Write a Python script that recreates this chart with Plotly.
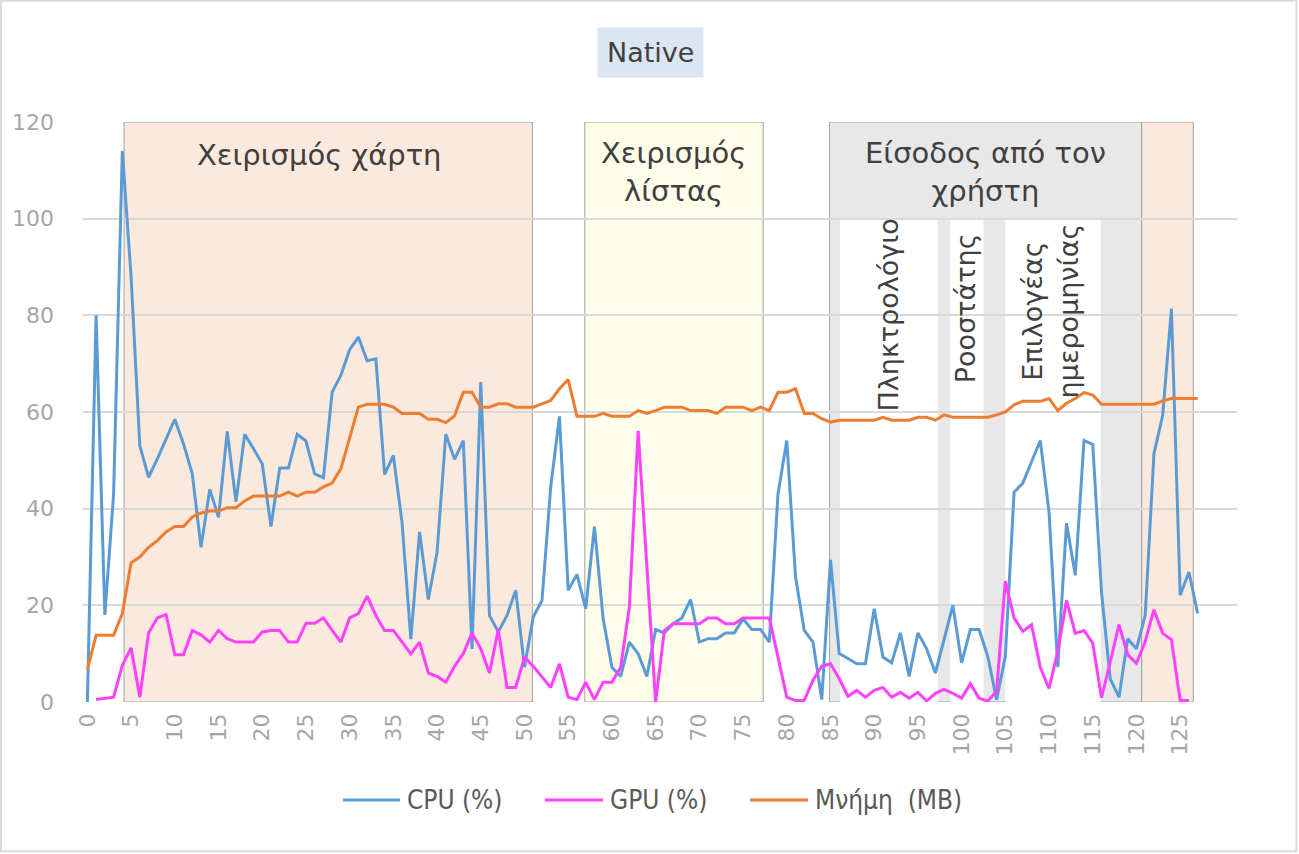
import plotly.graph_objects as go

# sample index (category axis)
samples = list(range(128))

cpu = [0, 80, 18, 43, 114, 88, 53, 46.5, 50.3, 54.5,
       58.5, 53.4, 47.2, 32, 44, 38.2, 56, 41.4, 55.4, 52.4,
       49.3, 36.3, 48.4, 48.4, 55.4, 54, 47.2, 46.4, 64.1, 67.6,
       72.9, 75.5, 70.6, 71, 47.1, 51, 37, 13, 35.2, 21.2,
       31, 55.4, 50.2, 54.1, 11, 66.2, 17.9, 14.5, 17.9, 23.1,
       7.2, 17.6, 21, 44.5, 59.1, 23.1, 26.4, 19.3, 36.3, 17.2,
       7.2, 5.3, 12.4, 10, 5.3, 15, 14.3, 16.2, 17.4, 21.2,
       12.4, 13.1, 13.1, 14.3, 14.3, 17.2, 15, 15, 12.4, 43.1,
       54.1, 25.9, 14.8, 12.4, 0.5, 29.4, 10, 9, 7.9, 7.9,
       19.3, 9.3, 8.1, 14.3, 5.3, 14.3, 11, 6, 12.9, 20,
       8.1, 15, 15, 9.4, 0.5, 9.4, 43.4, 45.3, 49.7, 54.1,
       39.3, 7.2, 37, 26.2, 54.1, 53.3, 22.8, 4.8, 1, 13.1,
       11, 17.9, 51.4, 59.3, 81.4, 22.1, 26.9, 18.3]

gpu = [None, 0.5, 0.7, 1, 7.6, 11.2, 1, 14.3, 17.4, 18.1,
       9.8, 9.8, 14.8, 13.9, 12.4, 14.8, 13.1, 12.4, 12.4, 12.4,
       14.5, 14.8, 14.8, 12.4, 12.4, 16.3, 16.3, 17.4, 14.8, 12.4,
       17.4, 18.3, 21.9, 17.9, 14.8, 14.8, 12.4, 10, 12.4, 6,
       5.3, 4.1, 7.4, 10, 14.3, 11, 6, 15, 3, 3,
       9.3, 7.4, 5.2, 3, 7.9, 1, 0.5, 4.1, 0.5, 4.1,
       4.1, 7.2, 19.7, 56.1, 28, 0, 14.8, 16.2, 16.2, 16.2,
       16.2, 17.4, 17.4, 16.2, 16.2, 17.4, 17.4, 17.4, 17.4, 9.3,
       1, 0.3, 0.3, 4.5, 7.4, 7.9, 4.8, 1.2, 2.4, 1,
       2.4, 3, 1, 2, 0.8, 2, 0.2, 1.8, 2.6, 1.8,
       0.8, 3.8, 0.8, 0.2, 2.2, 25, 17.4, 14.6, 16, 7.2,
       2.8, 10.5, 21, 14.2, 14.8, 12.2, 0.9, 8.2, 16, 9.8,
       8, 12.5, 19.1, 14.2, 12.9, 0.3, 0.3, None]

memory = [6.7, 13.8, 13.8, 13.8, 18.3, 28.8, 30, 32, 33.4, 35.2,
          36.3, 36.3, 38.3, 39.1, 39.5, 39.5, 40.2, 40.2, 41.6, 42.6,
          42.6, 42.6, 42.6, 43.4, 42.6, 43.4, 43.4, 44.5, 45.3, 48.3,
          54.8, 61, 61.6, 61.6, 61.6, 61, 59.7, 59.7, 59.7, 58.5,
          58.5, 57.8, 59.2, 64.1, 64.1, 61, 61, 61.7, 61.7, 61,
          61, 61, 61.7, 62.4, 64.8, 66.7, 59.1, 59.1, 59.1, 59.7,
          59.1, 59.1, 59.1, 60.3, 59.7, 60.3, 61, 61, 61, 60.3,
          60.3, 60.3, 59.7, 61, 61, 61, 60.3, 61, 60.3, 64.1,
          64.1, 64.8, 59.7, 59.7, 58.6, 57.9, 58.3, 58.3, 58.3, 58.3,
          58.3, 58.9, 58.3, 58.3, 58.3, 58.9, 58.9, 58.3, 59.4, 58.9,
          58.9, 58.9, 58.9, 58.9, 59.4, 60, 61.5, 62.2, 62.2, 62.2,
          62.8, 60.3, 61.8, 62.8, 64, 63.5, 61.6, 61.6, 61.6, 61.6,
          61.6, 61.6, 61.6, 62.3, 62.8, 62.8, 62.8, 62.8]

x_ticks = list(range(0, 126, 5))
y_ticks = [0, 20, 40, 60, 80, 100, 120]

# task phases (start, end, fill) in sample units
phases = [(4.2, 50.9, '#FCE9DD'), (56.9, 77.3, '#FEFDE9'),
          (84.9, 120.6, '#E8E8E8'), (120.6, 126.5, '#FCE9DD')]
# white bands inside the user-input phase (below 100)
sub_phases = [(86.1, 97.3), (98.7, 102.5), (105.0, 115.9)]

colors = {'cpu': '#5B9BD5', 'gpu': '#FF40FF', 'mem': '#ED7D31'}
names = {'cpu': 'CPU (%)', 'gpu': 'GPU (%)', 'mem': 'Μνήμη  (MB)'}
TEXT = '#404040'
TICK = '#A6A6A6'

fig = go.Figure()
for key, vals in (('cpu', cpu), ('gpu', gpu), ('mem', memory)):
    fig.add_trace(go.Scatter(x=samples, y=vals, mode='lines', name=names[key],
                             line=dict(color=colors[key], width=3), showlegend=False))

shapes = []
for x0, x1, fill in phases:
    shapes.append(dict(type='rect', xref='x', yref='y', x0=x0, x1=x1, y0=0, y1=120,
                       fillcolor=fill, line=dict(color='#A0A0A0', width=1), layer='below'))
for x0, x1 in sub_phases:
    shapes.append(dict(type='rect', xref='x', yref='y', x0=x0, x1=x1, y0=0, y1=100,
                       fillcolor='white', line=dict(width=0), layer='below'))
# outer chart border
shapes.append(dict(type='rect', xref='paper', yref='paper', x0=-0.071, x1=1.0515,
                   y0=-0.2575, y1=1.209, line=dict(color='#D9D9D9', width=2)))

big = dict(family='DejaVu Sans', size=29, color=TEXT)
mid = dict(family='DejaVu Sans', size=27, color=TEXT)
annotations = [
    dict(x=26.6, y=113.2, text='Χειρισμός χάρτη', font=big),
    dict(x=67, y=109.6, text='Χειρισμός<br>λίστας', font=big),
    dict(x=102.7, y=109.6, text='Είσοδος από τον<br>χρήστη', font=big),
    dict(x=91.6, y=80, text='Πληκτρολόγιο', textangle=-90, font=mid),
    dict(x=100.4, y=81.5, text='Ροοστάτης', textangle=-90, font=mid),
    dict(x=110.1, y=81, text='Επιλογέας<br>ημερομηνίας', textangle=-90, font=mid),
]
for a in annotations:
    a.update(xref='x', yref='y', showarrow=False)
annotations.append(dict(xref='paper', yref='paper', x=0.492, y=1.12, xanchor='center',
                        yanchor='middle', text='Native', showarrow=False,
                        font=dict(family='DejaVu Sans', size=27, color=TEXT),
                        bgcolor='#DCE6F2', borderpad=9))

# legend drawn by hand: longer line keys like the original
legend_y = -0.169
legend_keys = [('cpu', 0.2253, 0.2747), ('gpu', 0.4003, 0.4506), ('mem', 0.578, 0.6282)]
for key, x0, x1 in legend_keys:
    shapes.append(dict(type='line', xref='paper', yref='paper', x0=x0, x1=x1,
                       y0=legend_y, y1=legend_y, line=dict(color=colors[key], width=3)))
    annotations.append(dict(xref='paper', yref='paper', x=x1 + 0.004, y=legend_y,
                            xanchor='left', yanchor='middle', text=names[key], showarrow=False,
                            font=dict(family='DejaVu Sans Condensed, Liberation Sans Narrow, Liberation Sans',
                                      size=26, color='#595959')))

fig.update_layout(
    width=1299, height=854,
    margin=dict(l=83, r=62, t=122, b=152),
    plot_bgcolor='white', paper_bgcolor='white',
    shapes=shapes, annotations=annotations,
    xaxis=dict(range=[-0.5, 131.5], tickvals=x_ticks, tickangle=-90, showgrid=False,
               zeroline=False, showline=False, ticks='', ticklabelstandoff=6,
               tickfont=dict(family='DejaVu Sans', size=22, color=TICK)),
    yaxis=dict(range=[0, 120], tickvals=y_ticks, showgrid=True, gridcolor='#D9D9D9',
               gridwidth=2, zeroline=False, showline=False, ticks='',
               ticklabelstandoff=28,
               tickfont=dict(family='DejaVu Sans', size=22, color=TICK)),
    showlegend=False,
)

fig.write_html("out.html", config={'displayModeBar': False},
               post_script="document.body.style.margin='0';")
